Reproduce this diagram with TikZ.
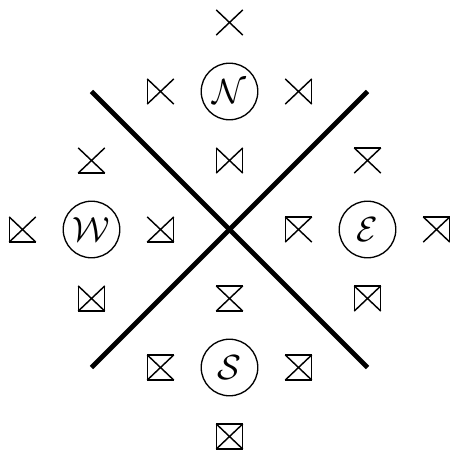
\documentclass[tikz,border=0pt]{standalone}
\usepackage{amsmath, amssymb}
\usepackage{tikz}
\usetikzlibrary{positioning}

\begin{document}
\begin{tikzpicture}[
  region/.style={draw, circle, minimum size=0.82cm, inner sep=0pt, line width=0.55pt, font=\Large},
  sym/.style={rectangle, minimum width=0.37cm, minimum height=0.35cm, inner sep=0pt,
    append after command={(\tikzlastnode.north west) edge[symline] (\tikzlastnode.south east)
      (\tikzlastnode.north east) edge[symline] (\tikzlastnode.south west)}},
  sT/.style={append after command={(\tikzlastnode.north west) edge[symline] (\tikzlastnode.north east)}},
  sB/.style={append after command={(\tikzlastnode.south west) edge[symline] (\tikzlastnode.south east)}},
  sL/.style={append after command={(\tikzlastnode.north west) edge[symline] (\tikzlastnode.south west)}},
  sR/.style={append after command={(\tikzlastnode.north east) edge[symline] (\tikzlastnode.south east)}},
  symline/.style={line width=0.6pt},
  divider/.style={line width=2pt},
  node distance=1cm, on grid
]
\useasboundingbox (-3.326,-3.210) rectangle (3.181,3.326);

% the four regions
\node[region] (N) at (0,2) {$\mathcal{N}$};
\node[region] (W) at (-2,0) {$\mathcal{W}$};
\node[region] (E) at (2,0) {$\mathcal{E}$};
\node[region] (S) at (0,-2) {$\mathcal{S}$};

% north
\node[sym, above=of N] (n1) {};
\node[sym, sL, left=of N] (n2) {};
\node[sym, sR, right=of N] (n3) {};
\node[sym, sL, sR, below=of N] (n4) {};

% west
\node[sym, sB, above=of W] (w1) {};
\node[sym, sL, sB, left=of W] (w2) {};
\node[sym, sR, sB, right=of W] (w3) {};
\node[sym, sL, sR, sB, below=of W] (w4) {};

% east
\node[sym, sT, above=of E] (e1) {};
\node[sym, sT, sL, left=of E] (e2) {};
\node[sym, sT, sR, right=of E] (e3) {};
\node[sym, sT, sL, sR, below=of E] (e4) {};

% south
\node[sym, sT, sB, above=of S] (s1) {};
\node[sym, sT, sB, sL, left=of S] (s2) {};
\node[sym, sT, sB, sR, right=of S] (s3) {};
\node[sym, sT, sB, sL, sR, below=of S] (s4) {};

\coordinate (nw) at (W |- N);
\coordinate (ne) at (E |- N);
\coordinate (sw) at (W |- S);
\coordinate (se) at (E |- S);
\draw[divider] (nw) -- (se);
\draw[divider] (sw) -- (ne);
\end{tikzpicture}
\end{document}
